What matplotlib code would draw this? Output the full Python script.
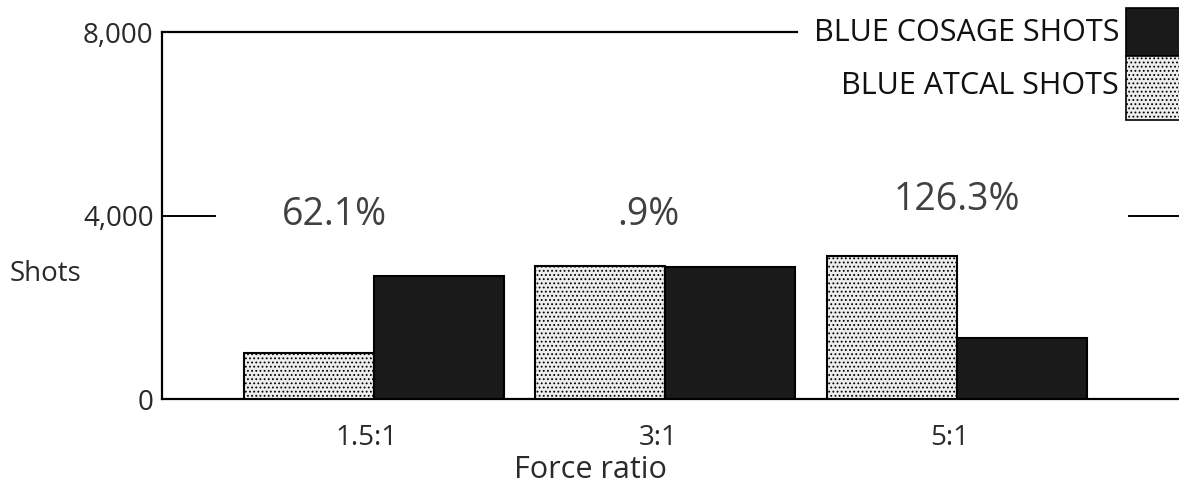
import matplotlib.pyplot as plt
import matplotlib.patches as mpatches
import numpy as np

plt.rcParams['font.family'] = ['Open Sans', 'DejaVu Sans']
plt.rcParams['hatch.color'] = '#9a9a9a'
plt.rcParams['hatch.linewidth'] = 0.8

# data
ratios = ["1.5:1", "3:1", "5:1"]
atcal_shots = [1000, 2900, 3120]
cosage_shots = [2680, 2880, 1330]
pct_labels = ["62.1%", ".9%", "126.3%"]
yticks = [0, 4000, 8000]
ytick_labels = ["0", "4,000", "8,000"]

dark = '#1a1a1a'
light = '#ededed'
text_col = '#2a2a2a'

fig = plt.figure(figsize=(11.79, 4.97), dpi=100)
ax = fig.add_axes([162 / 1179, 1 - 399 / 497, 1 - 162 / 1179, (399 - 32) / 497])

x = np.arange(len(ratios))
w = 0.446
ax.bar(x - w / 2, atcal_shots, w, color=light, edgecolor='black', linewidth=1.5,
       hatch='....', zorder=3)
ax.bar(x + w / 2, cosage_shots, w, color=dark, edgecolor='black', linewidth=1.5,
       zorder=3)

ax.set_xlim(-0.727, 2.762)
ax.set_ylim(0, 8000)

for s in ['top', 'right']:
    ax.spines[s].set_visible(False)
for s in ['left', 'bottom']:
    ax.spines[s].set_linewidth(1.6)
    ax.spines[s].set_color('black')

# partial gridlines like the original
ax.axhline(8000, xmin=0, xmax=0.624, color='black', lw=1.6, clip_on=False)
ax.axhline(4000, xmin=0, xmax=(215 - 162) / 1017, color='black', lw=1.4)
ax.axhline(4000, xmin=(1129 - 162) / 1017, xmax=1, color='black', lw=1.4)

ax.set_yticks(yticks)
ax.set_yticklabels(ytick_labels, fontsize=20, color=text_col)
ax.set_xticks(x - 0.025)
ax.set_xticklabels(ratios, fontsize=20, color=text_col)
ax.tick_params(axis='y', length=0, pad=6)
ax.tick_params(axis='x', length=0, pad=18)

# percentage labels
label_dx = [-0.134, -0.06, 0.0]
label_y = [4010, 4010, 4330]
for i, lab in enumerate(pct_labels):
    ax.text(x[i] + label_dx[i], label_y[i], lab, ha='center', va='center',
            fontsize=27, color='#404040')

fig.text(10 / 1179, 1 - 274 / 497, "Shots", ha='left', va='center',
         fontsize=20, color=text_col)
fig.text(590 / 1179, 1 - 470 / 497, "Force ratio", ha='center', va='center',
         fontsize=22, color=text_col)

# legend at the top right
fig.text(1119 / 1179, 1 - 33 / 497, "BLUE COSAGE SHOTS", ha='right', va='center',
         fontsize=22, color='#111111')
fig.text(1119 / 1179, 1 - 86 / 497, "BLUE ATCAL SHOTS", ha='right', va='center',
         fontsize=22, color='#111111')
fig.patches.append(mpatches.Rectangle((1126 / 1179, 1 - 56 / 497), 60 / 1179, 48 / 497,
                                      transform=fig.transFigure, facecolor=dark,
                                      edgecolor='black', lw=1.2))
fig.patches.append(mpatches.Rectangle((1126 / 1179, 1 - 120 / 497), 60 / 1179, 64 / 497,
                                      transform=fig.transFigure, facecolor=light,
                                      edgecolor='black', lw=1.2, hatch='....'))

fig.savefig('out.png', dpi=100)
